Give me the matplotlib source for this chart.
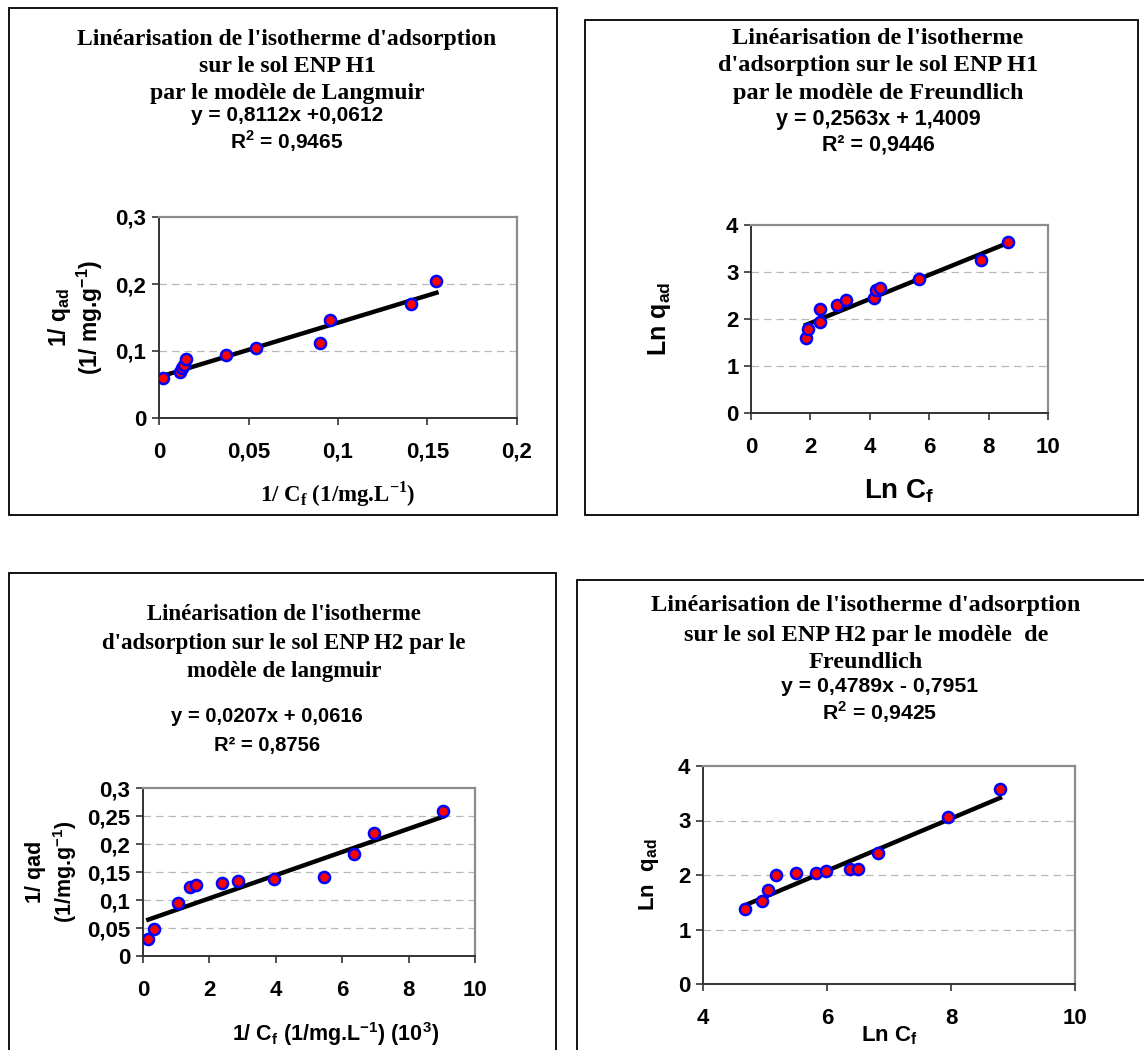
import numpy as np
import matplotlib
matplotlib.use('Agg')
import matplotlib.pyplot as plt
from matplotlib.patches import Rectangle

plt.rcParams['mathtext.fontset'] = 'custom'
plt.rcParams['mathtext.bf'] = 'Liberation Sans:bold'
plt.rcParams['mathtext.rm'] = 'Liberation Sans:bold'
plt.rcParams['mathtext.sf'] = 'Liberation Serif:bold'

# H1 - Langmuir
h1_lang_x = [0.0025, 0.0116, 0.013, 0.014, 0.0149, 0.0373, 0.054, 0.0897, 0.0955, 0.1406, 0.155]
h1_lang_y = [0.0595, 0.069, 0.074, 0.079, 0.088, 0.094, 0.105, 0.112, 0.147, 0.170, 0.205]
h1_lang_fit = (0.8112, 0.0612)

# H1 - Freundlich
h1_freu_x = [1.85, 1.92, 2.34, 2.34, 2.89, 3.20, 4.13, 4.20, 4.36, 5.65, 7.73, 8.67]
h1_freu_y = [1.59, 1.79, 1.93, 2.21, 2.29, 2.40, 2.44, 2.62, 2.67, 2.85, 3.26, 3.64]
h1_freu_fit = (0.2563, 1.4009)

# H2 - Langmuir
h2_lang_x = [0.16, 0.32, 1.05, 1.42, 1.61, 2.39, 2.87, 3.95, 5.45, 6.35, 6.95, 9.05]
h2_lang_y = [0.031, 0.049, 0.095, 0.123, 0.127, 0.131, 0.134, 0.137, 0.141, 0.183, 0.220, 0.259]
h2_lang_fit = (0.0207, 0.0616)

# H2 - Freundlich
h2_freu_x = [4.67, 4.95, 5.05, 5.18, 5.50, 5.82, 5.99, 6.37, 6.50, 6.82, 7.95, 8.79]
h2_freu_y = [1.37, 1.52, 1.72, 2.00, 2.04, 2.04, 2.07, 2.11, 2.11, 2.40, 3.07, 3.58]
h2_freu_fit = (0.4789, -0.7951)

W, H = 1144, 1050
fig = plt.figure(figsize=(W / 100, H / 100), dpi=100)


def px_axes(l, t, r, b):
    return fig.add_axes([l / W, 1 - b / H, (r - l) / W, (b - t) / H])


def box(l, t, r, b):
    fig.patches.append(Rectangle((l / W, 1 - b / H), (r - l) / W, (b - t) / H,
                                 transform=fig.transFigure, fill=False,
                                 edgecolor='black', linewidth=1.3))


def ftext(x, y, s, serif=False, size=15):
    fam = 'Liberation Serif' if serif else 'Liberation Sans'
    fig.text(x / W, 1 - y / H, s, ha='center', va='center', fontsize=size,
             fontweight='bold', family=fam)


def comma(v):
    return ('%g' % v).replace('.', ',')


def panel(ax, xs, ys, fit, xlim, xticks, ylim, yticks):
    ax.set_xlim(*xlim)
    ax.set_ylim(*ylim)
    ax.set_xticks(xticks)
    ax.set_yticks(yticks)
    ax.set_xticklabels([comma(v) for v in xticks])
    ax.set_yticklabels([comma(v) for v in yticks])
    for lab in ax.get_xticklabels() + ax.get_yticklabels():
        lab.set_fontweight('bold')
        lab.set_family('Liberation Sans')
        lab.set_fontsize(16)
    ax.tick_params(direction='out', length=5, width=1.2, color='#333333', pad=4)
    ax.tick_params(axis='x', pad=12)
    for g in yticks[1:-1]:
        ax.axhline(g, color='#b8b8b8', linestyle=(0, (6, 4)), linewidth=0.9, zorder=0)
    for side in ['top', 'right']:
        ax.spines[side].set_color('#8c8c8c')
        ax.spines[side].set_linewidth(1.6)
    for side in ['left', 'bottom']:
        ax.spines[side].set_color('#333333')
        ax.spines[side].set_linewidth(1.4)
    xs = np.array(xs)
    xl = np.array([xs.min(), xs.max()])
    ax.plot(xl, fit[0] * xl + fit[1], color='black', linewidth=3.2, zorder=2)
    ax.plot(xs, ys, 'o', markersize=8, markerfacecolor='red',
            markeredgecolor='#0000ff', markeredgewidth=1.8, zorder=3)


# ---- panel 1
box(9, 8, 557, 515)
ftext(287, 39, "Linéarisation de l'isotherme d'adsorption", serif=True, size=17)
ftext(287, 66, "sur le sol ENP H1", serif=True, size=17)
ftext(287, 93, "par le modèle de Langmuir", serif=True, size=17)
ftext(287, 115, "y = 0,8112x +0,0612")
ftext(287, 141, "R$^{\\mathbf{2}}$ = 0,9465")
ax1 = px_axes(159, 217, 517, 418)
panel(ax1, h1_lang_x, h1_lang_y, h1_lang_fit, (0, 0.2), [0, 0.05, 0.1, 0.15, 0.2],
      (0, 0.3), [0, 0.1, 0.2, 0.3])
ax1.set_xlabel("1/ C$_{\\mathsf{f}}$ (1/mg.L$^{\\mathsf{-1}}$)", family='Liberation Serif',
               fontweight='bold', fontsize=16.5, labelpad=12)
ax1.set_ylabel("1/ q$_{\\mathbf{ad}}$\n(1/ mg.g$^{\\mathbf{-1}}$)", family='Liberation Sans',
               fontweight='bold', fontsize=16.5, labelpad=8, linespacing=1.05)

# ---- panel 2
box(585, 20, 1138, 515)
ftext(878, 38, "Linéarisation de l'isotherme", serif=True, size=17.5)
ftext(878, 66, "d'adsorption sur le sol ENP H1", serif=True, size=17.5)
ftext(878, 94, "par le modèle de Freundlich", serif=True, size=17.5)
ftext(878, 119, "y = 0,2563x + 1,4009", size=15.5)
ftext(878, 145, "R² = 0,9446", size=15.5)
ax2 = px_axes(751, 225, 1048, 413)
panel(ax2, h1_freu_x, h1_freu_y, h1_freu_fit, (0, 10), [0, 2, 4, 6, 8, 10],
      (0, 4), [0, 1, 2, 3, 4])
ax2.set_xlabel("Ln C$_{\\mathbf{f}}$", family='Liberation Sans', fontweight='bold',
               fontsize=20, labelpad=14)
ax2.set_ylabel("Ln q$_{\\mathbf{ad}}$", family='Liberation Sans', fontweight='bold',
               fontsize=18, labelpad=38)

# ---- panel 3
box(9, 573, 556, 1060)
ftext(284, 614, "Linéarisation de l'isotherme", serif=True, size=16.5)
ftext(284, 643, "d'adsorption sur le sol ENP H2 par le", serif=True, size=16.5)
ftext(284, 672, "modèle de langmuir", serif=True, size=16.5)
ftext(267, 716, "y = 0,0207x + 0,0616", size=14.5)
ftext(267, 746, "R² = 0,8756", size=14.5)
ax3 = px_axes(143, 788, 475, 956)
panel(ax3, h2_lang_x, h2_lang_y, h2_lang_fit, (0, 10), [0, 2, 4, 6, 8, 10],
      (0, 0.3), [0, 0.05, 0.1, 0.15, 0.2, 0.25, 0.3])
ax3.set_xlabel("1/ C$_{\\mathbf{f}}$ (1/mg.L$^{\\mathbf{-1}}$) (10$^{\\mathbf{3}}$)",
               family='Liberation Sans', fontweight='bold', fontsize=15.5)
ax3.xaxis.set_label_coords(0.58, -0.38)
ax3.set_ylabel("1/ qad\n(1/mg.g$^{\\mathbf{-1}}$)", family='Liberation Sans',
               fontweight='bold', fontsize=15.5, labelpad=6, linespacing=1.25)

# ---- panel 4
box(577, 580, 1160, 1060)
ftext(866, 606, "Linéarisation de l'isotherme d'adsorption", serif=True, size=17.5)
ftext(866, 635, "sur le sol ENP H2 par le modèle  de", serif=True, size=17.5)
ftext(866, 663, "Freundlich", serif=True, size=17.5)
ftext(880, 686, "y = 0,4789x - 0,7951", size=15.3)
ftext(880, 712, "R$^{\\mathbf{2}}$ = 0,9425", size=15.3)
ax4 = px_axes(703, 766, 1075, 984)
panel(ax4, h2_freu_x, h2_freu_y, h2_freu_fit, (4, 10), [4, 6, 8, 10],
      (0, 4), [0, 1, 2, 3, 4])
ax4.set_xlabel("Ln C$_{\\mathbf{f}}$", family='Liberation Sans', fontweight='bold',
               fontsize=16, labelpad=-3)
ax4.set_ylabel("Ln  q$_{\\mathbf{ad}}$", family='Liberation Sans', fontweight='bold',
               fontsize=16, labelpad=12)

fig.savefig('out.png', dpi=100)
